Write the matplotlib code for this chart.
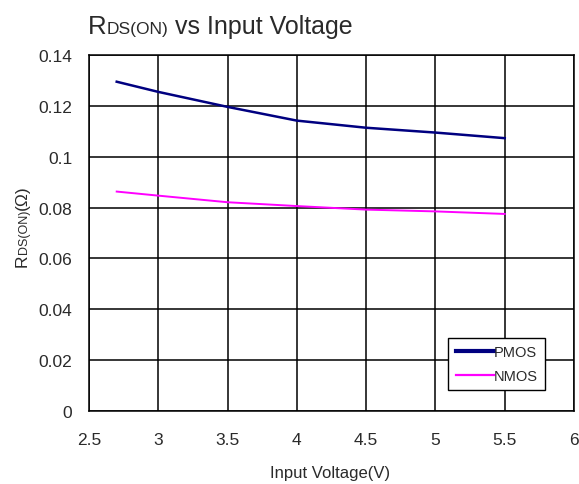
import matplotlib
matplotlib.use("Agg")
import matplotlib.pyplot as plt

plt.rcParams['font.family'] = ['Liberation Sans', 'DejaVu Sans']

# data
voltage = [2.7, 3.0, 3.5, 4.0, 4.5, 5.0, 5.5]
pmos_r = [0.1295, 0.1255, 0.1196, 0.1142, 0.1114, 0.1095, 0.1073]
nmos_r = [0.0863, 0.0847, 0.0821, 0.0806, 0.0792, 0.0785, 0.0775]
x_ticks = [2.5, 3, 3.5, 4, 4.5, 5, 5.5, 6]
x_labels = ['2.5', '3', '3.5', '4', '4.5', '5', '5.5', '6']
y_ticks = [0, 0.02, 0.04, 0.06, 0.08, 0.1, 0.12, 0.14]
y_labels = ['0', '0.02', '0.04', '0.06', '0.08', '0.1', '0.12', '0.14']

TEXT_COLOR = '#2a2a2a'


def chain_text(fig, x, y, parts, rotation=0):
    """Write text pieces of different sizes one after another on a common baseline."""
    renderer = fig.canvas.get_renderer()
    inv = fig.transFigure.inverted()
    for s, size in parts:
        t = fig.text(x, y, s, fontsize=size, rotation=rotation, color=TEXT_COLOR,
                     rotation_mode='anchor', ha='left', va='baseline')
        bb = t.get_window_extent(renderer)
        bb = bb.transformed(inv)
        if rotation == 0:
            x += bb.width
        else:
            y += bb.height


fig = plt.figure(figsize=(5.79, 4.85), dpi=100)
ax = fig.add_axes([0.1537, 0.1505, 0.8377, 0.7340])

ax.plot(voltage, pmos_r, color='#000080', lw=1.8, label='PMOS')
ax.plot(voltage, nmos_r, color='#ff00ff', lw=1.4, label='NMOS')

ax.set_xlim(2.5, 6)
ax.set_ylim(0, 0.14)
ax.set_xticks(x_ticks)
ax.set_xticklabels(x_labels)
ax.set_yticks(y_ticks)
ax.set_yticklabels(y_labels)
ax.tick_params(length=0, labelsize=12.5, colors=TEXT_COLOR)
ax.tick_params(axis='y', pad=12)
ax.tick_params(axis='x', pad=15)
ax.grid(True, color='black', lw=1.1)
for sp in ax.spines.values():
    sp.set_color('black')
    sp.set_linewidth(1.1)

leg = ax.legend(loc='lower right', bbox_to_anchor=(0.94, 0.058), fontsize=10.5,
                handlelength=2.6, handletextpad=0.0, borderpad=0.5,
                labelspacing=0.7, fancybox=False, framealpha=1,
                borderaxespad=0)
leg.get_frame().set_edgecolor('black')
leg.get_frame().set_linewidth(1.0)
for text in leg.get_texts():
    text.set_color(TEXT_COLOR)
for line in leg.get_lines():
    line.set_linewidth(3.0 if line.get_label() == 'PMOS' else 1.6)

fig.canvas.draw()

# title: R + smaller DS(ON) + rest
chain_text(fig, 0.152, 0.93, [('R', 18.5), ('DS(ON)', 12.5), (' vs Input Voltage', 18)])

# y label, rotated
chain_text(fig, 0.046, 0.45, [('R', 12.5), ('DS(ON)', 9), ('(Ω)', 12.5)], rotation=90)

# x label
fig.text(0.57, 0.008, 'Input Voltage(V)', fontsize=12, ha='center', va='bottom',
         color=TEXT_COLOR)

fig.savefig('out.png', dpi=100)
